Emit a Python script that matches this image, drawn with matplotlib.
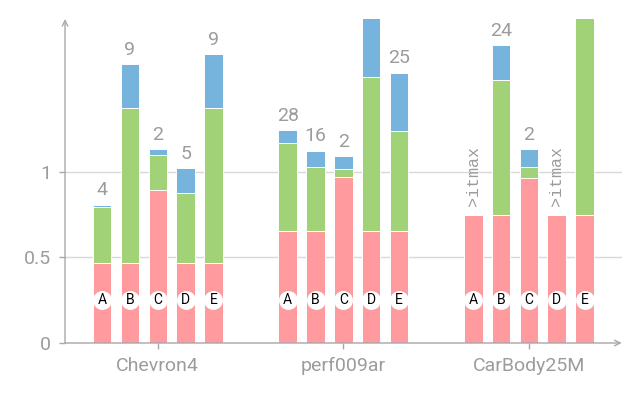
import numpy as np
import matplotlib
matplotlib.use("Agg")
import matplotlib.pyplot as plt

# data (stacked tops of each stage)
groups = ["Chevron4", "perf009ar", "CarBody25M"]
variants = ["A", "B", "C", "D", "E"]

pink_top = [
    [0.466, 0.466, 0.894, 0.466, 0.466],
    [0.651, 0.651, 0.970, 0.651, 0.651],
    [0.748, 0.748, 0.960, 0.748, 0.748],
]
green_top = [
    [0.795, 1.370, 1.094, 0.875, 1.370],
    [1.164, 1.026, 1.016, 1.549, 1.238],
    [0.748, 1.534, 1.026, 0.748, 2.150],
]
blue_top = [
    [0.805, 1.627, 1.129, 1.019, 1.683],
    [1.240, 1.121, 1.090, 2.300, 1.576],
    [0.748, 1.736, 1.131, 0.748, 2.150],
]
bar_labels = [
    ["4", "9", "2", "5", "9"],
    ["28", "16", "2", "", "25"],
    [">itmax", "24", "2", ">itmax", ""],
]

PINK = "#ff9a9e"
GREEN = "#a2d277"
BLUE = "#76b4de"
GRAY = "#9c9c9c"
AXIS = "#a8a8a8"

plt.rcParams["font.family"] = ["Roboto", "DejaVu Sans"]

fig = plt.figure(figsize=(6.4, 3.98), dpi=100)
ax = fig.add_axes([0.1016, 0.1382, 0.8698, 0.8141])

step = 0.15
width = 0.10
for g in range(len(groups)):
    xs = g + (np.arange(len(variants)) - 2) * step
    p = np.array(pink_top[g])
    gr = np.array(green_top[g])
    b = np.array(blue_top[g])
    ax.bar(xs, p, width, color=PINK, edgecolor="white", linewidth=0.7, zorder=2)
    ax.bar(xs, gr - p, width, bottom=p, color=GREEN, edgecolor="white", linewidth=0.7, zorder=2)
    ax.bar(xs, b - gr, width, bottom=gr, color=BLUE, edgecolor="white", linewidth=0.7, zorder=2)
    for i, x in enumerate(xs):
        # letter in white circle
        ax.scatter([x], [0.25], s=185, color="white", zorder=3, linewidths=0)
        ax.text(x, 0.25, variants[i], ha="center", va="center", fontsize=10,
                color="black", zorder=4)
        lab = bar_labels[g][i]
        if lab.startswith(">"):
            ax.annotate(lab, (x, b[i]), xytext=(0, 6), textcoords="offset points",
                        ha="center", va="bottom", rotation=90, fontsize=12,
                        family="Liberation Mono", color=GRAY, annotation_clip=False)
        elif lab:
            ax.annotate(lab, (x, b[i]), xytext=(0, 4), textcoords="offset points",
                        ha="center", va="bottom", fontsize=14, color=GRAY)

ax.set_xlim(-0.5, 2.5)
ax.set_ylim(0, 1.89)
ax.set_xticks(range(len(groups)))
ax.set_xticklabels(groups)
ax.set_yticks([0, 0.5, 1])
ax.set_yticklabels(["0", "0.5", "1"])
ax.tick_params(colors=AXIS, labelcolor=GRAY, labelsize=14, length=4, width=1, pad=6)
ax.grid(axis="y", color="#d8d8d8", linewidth=1, zorder=0)
ax.set_axisbelow(True)

for s in ax.spines.values():
    s.set_visible(False)

# axis lines with arrowheads
ax.annotate("", xy=(0, 1.0), xytext=(0, 0), xycoords="axes fraction",
            arrowprops=dict(arrowstyle="->", color=AXIS, lw=1, shrinkA=0, shrinkB=0))
ax.annotate("", xy=(1.0, 0), xytext=(0, 0), xycoords="axes fraction",
            arrowprops=dict(arrowstyle="->", color=AXIS, lw=1, shrinkA=0, shrinkB=0))

fig.savefig("out.png", dpi=100)
